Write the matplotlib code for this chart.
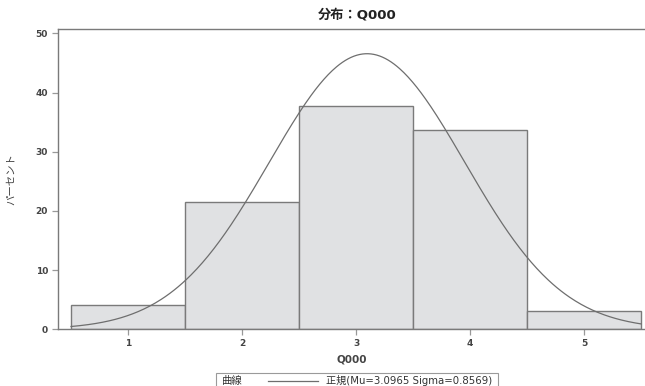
import numpy as np
import matplotlib
matplotlib.use("Agg")
import matplotlib.pyplot as plt
from matplotlib.patches import Rectangle
from matplotlib.lines import Line2D

LAT = ['DejaVu Sans', 'Noto Sans CJK JP']
CJK = ['Noto Sans CJK JP', 'DejaVu Sans']
plt.rcParams['font.family'] = LAT

# Datos del histograma (porcentaje por categoría)
categorias = [1, 2, 3, 4, 5]
porcentajes = [4.05, 21.45, 37.8, 33.7, 3.05]
mu = 3.0965
sigma = 0.8569
ancho = 1.0

titulo = "分布：Q000"
etiqueta_x = "Q000"
etiqueta_y = "パーセント"
leyenda_titulo = "曲線"
leyenda_texto = f"正規(Mu={mu:.4f} Sigma={sigma:.4f})"

gris = '#7a7a7a'
relleno = '#e0e1e3'
texto_col = '#444444'

W, H = 645, 386
fig = plt.figure(figsize=(W / 100, H / 100), dpi=100)
ax = fig.add_axes([57.7 / W, 1 - 329.3 / H, (W - 57.7) / W, (329.3 - 29.3) / H])

# Barras del histograma
ax.bar(categorias, porcentajes, width=ancho, color=relleno,
       edgecolor=gris, linewidth=1.0, zorder=2)

# Curva normal ajustada (escalada a porcentaje)
xs = np.linspace(categorias[0] - ancho / 2, categorias[-1] + ancho / 2, 400)
ys = 100 * ancho / (sigma * np.sqrt(2 * np.pi)) * np.exp(-0.5 * ((xs - mu) / sigma) ** 2)
ax.plot(xs, ys, color='#6e6e6e', linewidth=0.9, zorder=3)

ax.set_xlim(0.383, 5.535)
ax.set_ylim(0, 50.68)
ax.set_xticks(categorias)
ax.set_yticks([0, 10, 20, 30, 40, 50])

for lado in ['left', 'bottom', 'top']:
    ax.spines[lado].set_color(gris)
    ax.spines[lado].set_linewidth(1.0)
ax.spines['right'].set_visible(False)
ax.tick_params(axis='both', colors='#999999', length=4, width=0.9,
               labelsize=6.5, labelcolor=texto_col, pad=3)
for lab in ax.get_xticklabels() + ax.get_yticklabels():
    lab.set_fontweight('bold')

ax.set_xlabel(etiqueta_x, fontsize=7.5, color=texto_col, fontweight='bold', labelpad=5)
ax.set_ylabel(etiqueta_y, fontsize=7.5, color=texto_col, labelpad=14, family=CJK)

fig.text(357 / W, 1 - 15 / H, titulo, ha='center', va='center', fontsize=9.5,
         fontweight='bold', color='#222222')

# Leyenda manual en la parte inferior
fig.add_artist(Rectangle((216 / W, -0.01), (498 - 216) / W, (386 - 373) / H + 0.01,
                         transform=fig.transFigure, facecolor='white',
                         edgecolor='#9a9a9a', linewidth=0.8))
fig.text(222 / W, 1 - 381 / H, leyenda_titulo, ha='left', va='center', fontsize=7.5,
         color='#333333', family=CJK)
fig.add_artist(Line2D([268 / W, 318 / W], [1 - 381 / H, 1 - 381 / H],
                      transform=fig.transFigure, color='#6e6e6e', linewidth=0.9))
fig.text(326 / W, 1 - 381 / H, leyenda_texto, ha='left', va='center', fontsize=7.3,
         color='#333333')

fig.savefig('out.png', dpi=100)
